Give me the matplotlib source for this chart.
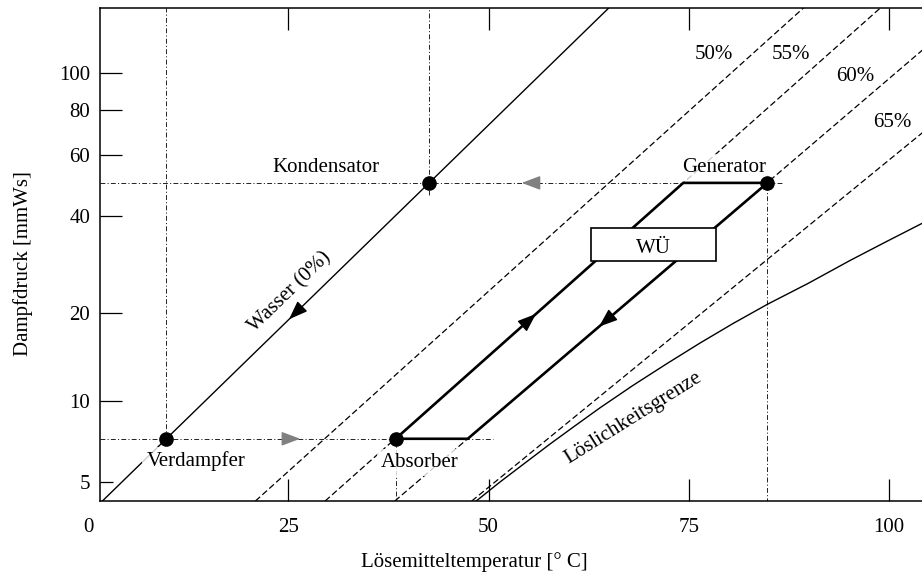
import numpy as np
import matplotlib
matplotlib.use("Agg")
import matplotlib.pyplot as plt
from matplotlib.patches import Rectangle
from matplotlib.transforms import blended_transform_factory

plt.rcParams["font.family"] = ["Liberation Serif", "DejaVu Serif"]
plt.rcParams["font.size"] = 15
plt.rcParams["lines.scale_dashes"] = False

# Antoine constants of water (mmHg, deg C); the pressure axis is spaced
# by the saturation temperature of water (Duehring diagram).
ANTOINE_A, ANTOINE_B, ANTOINE_C = 8.07131, 1730.63, 233.426
P_FACTOR = 0.80


def p_to_tsat(p):
    p = np.clip(np.asarray(p, dtype=float), 1e-6, 1e6)
    return ANTOINE_B / (ANTOINE_A - np.log10(p / P_FACTOR)) - ANTOINE_C


def tsat_to_p(t):
    t = np.clip(np.asarray(t, dtype=float), -200.0, 1e4)
    return P_FACTOR * 10.0 ** (ANTOINE_A - ANTOINE_B / (t + ANTOINE_C))


# ---------------------------------------------------------------- data
temp_lim = [1.5, 104.1]
p_lim = [4.22, 146.4]

x_ticks = [0, 25, 50, 75, 100]
y_ticks = [5, 10, 20, 40, 60, 80, 100]

# pure water (0 %)
water_T = [1.8, 65.0]
water_p = [4.22, 146.4]

# lines of constant solution concentration
conc_labels = ["50%", "55%", "60%", "65%"]
conc_T = [[20.9, 89.3], [29.6, 98.9], [38.3, 110.3], [47.9, 123.2]]
conc_p = [[4.22, 146.4], [4.22, 146.4], [4.22, 146.4], [4.22, 146.4]]

# crystallisation limit
sol_T = [48.3, 51.4, 54.6, 57.7, 60.8, 63.9, 68.0, 72.3, 76.4, 80.5, 84.8,
         89.9, 95.1, 99.6, 104.1, 107.6]
sol_p = [4.18, 5.00, 5.94, 6.99, 8.15, 9.46, 11.35, 13.54, 15.88, 18.43, 21.30,
         24.86, 29.30, 33.45, 38.02, 41.83]

# state points of the cycle
state_names = ["Verdampfer", "Kondensator", "Absorber", "Generator"]
state_T = [9.8, 42.6, 38.4, 84.8]
state_p = [7.3, 50.0, 7.3, 50.0]

# solution circuit absorber -> generator -> absorber
cycle_T = [38.4, 74.3, 84.8, 47.4, 38.4]
cycle_p = [7.3, 50.0, 50.0, 7.3, 7.3]

# dash-dotted guide lines at the two pressure levels / state temperatures
guide_T = [[1.5, 86.8], [1.5, 50.6], [9.8, 9.8], [42.6, 42.6], [84.8, 84.8], [38.4, 38.4]]
guide_p = [[50.0, 50.0], [7.3, 7.3], [7.3, 146.4], [46.1, 146.4], [52.7, 4.22], [7.3, 4.22]]

# ---------------------------------------------------------------- figure
fig = plt.figure(figsize=(9.22, 5.78), dpi=100)
ax = fig.add_axes([100 / 922, 77 / 578, 822 / 922, 493 / 578])
ax.set_yscale("function", functions=(p_to_tsat, tsat_to_p))

ax.set_xticks(x_ticks)
ax.set_yticks(y_ticks)
ax.set_yticklabels([str(v) for v in y_ticks])
ax.yaxis.set_minor_locator(matplotlib.ticker.NullLocator())
# limits after the ticks, so the fixed ticks do not widen the view
ax.set_xlim(*temp_lim)
ax.set_ylim(*p_lim)

ax.tick_params(axis="both", direction="in", length=15.8, width=0.9, labelsize=15,
               top=True, right=False)
ax.tick_params(axis="x", pad=12.5)
ax.tick_params(axis="y", pad=7.2)
# the lowest pressure tick is drawn shorter
ax.yaxis.get_major_ticks()[0].tick1line.set_markersize(9.4)
for s in ["left", "bottom", "top"]:
    ax.spines[s].set_linewidth(1.1)
ax.spines["right"].set_visible(False)

# tick values that fall left of the frame still get their label
lbl_tr = blended_transform_factory(ax.transData, ax.transAxes)
for t in x_ticks:
    if t < temp_lim[0]:
        ax.text(t, -17.3 / 493, str(t), transform=lbl_tr, ha="center", va="top",
                fontsize=15, clip_on=False)

ax.set_xlabel("Lösemitteltemperatur [° C]", fontsize=15)
ax.xaxis.set_label_coords((474 - 100) / 822, -0.1034)
ax.set_ylabel("Dampfdruck [mmWs]", fontsize=15)
ax.yaxis.set_label_coords(-0.0815, 0.4807)

guide_style = dict(color="#222222", lw=0.7, dashes=(3.5, 1.6, 0.8, 1.6), zorder=1)
for gT, gp in zip(guide_T, guide_p):
    ax.plot(gT, gp, **guide_style)

ax.plot(water_T, water_p, color="black", lw=1.0, zorder=2)
for cT, cp in zip(conc_T, conc_p):
    ax.plot(cT, cp, color="black", lw=0.9, dashes=(4.5, 2.2), zorder=2)
ax.plot(sol_T, sol_p, color="black", lw=1.0, zorder=2)

ax.plot(cycle_T, cycle_p, color="black", lw=1.9, solid_joinstyle="miter", zorder=3)
ax.plot(state_T, state_p, "o", color="black", ms=9.5, zorder=5.5)


def along(T, p, f):
    a = ax.transData.transform((T[0], p[0]))
    b = ax.transData.transform((T[1], p[1]))
    return ax.transData.inverted().transform(a + f * (b - a))


def flow_arrow(T, p, f_base, f_tip, color):
    ax.annotate("", xy=along(T, p, f_tip), xytext=along(T, p, f_base),
                arrowprops=dict(arrowstyle="-|>,head_length=1.15,head_width=0.43",
                                mutation_scale=10, color=color, lw=1.0,
                                shrinkA=0, shrinkB=0), zorder=4)


flow_arrow(water_T, water_p, 0.391, 0.3686, "black")
flow_arrow(cycle_T[0:2], cycle_p[0:2], 0.438, 0.488, "black")
flow_arrow(cycle_T[2:4], cycle_p[2:4], 0.516, 0.562, "black")
flow_arrow(guide_T[1], guide_p[1], 0.471, 0.509, "#808080")
flow_arrow(guide_T[0], guide_p[0], 0.641, 0.617, "#808080")

label_box = dict(facecolor="white", edgecolor="none", alpha=0.8, boxstyle="square,pad=0.2")
state_label_pos = {"Verdampfer": (0.1168, 0.0710), "Kondensator": (0.2749, 0.6680),
                   "Absorber": (0.3893, 0.0696), "Generator": (0.7591, 0.6680)}
for name in state_names:
    x, y = state_label_pos[name]
    ax.text(x, y, name, transform=ax.transAxes, ha="center", va="baseline",
            bbox=label_box, zorder=5)

conc_label_pos = [(0.7470, 0.8966), (0.8406, 0.8966), (0.9191, 0.8525), (0.9641, 0.7592)]
for lab, (x, y) in zip(conc_labels, conc_label_pos):
    ax.text(x, y, lab, transform=ax.transAxes, ha="center", va="baseline", zorder=5)

ax.text(0.2311, 0.4239, "Wasser (0%)", transform=ax.transAxes, rotation=44.2,
        rotation_mode="anchor", ha="center", va="center", zorder=5)
ax.text(0.6484, 0.1684, "Löslichkeitsgrenze", transform=ax.transAxes, rotation=32,
        rotation_mode="anchor", ha="center", va="center", zorder=5)

ax.add_patch(Rectangle((0.597, 0.487), 0.152, 0.067, transform=ax.transAxes,
                       facecolor="white", edgecolor="black", lw=1.2, zorder=6))
ax.text(0.6734, 0.503, "WÜ", transform=ax.transAxes, ha="center", va="baseline", zorder=7)

fig.savefig("out.png", dpi=100)
